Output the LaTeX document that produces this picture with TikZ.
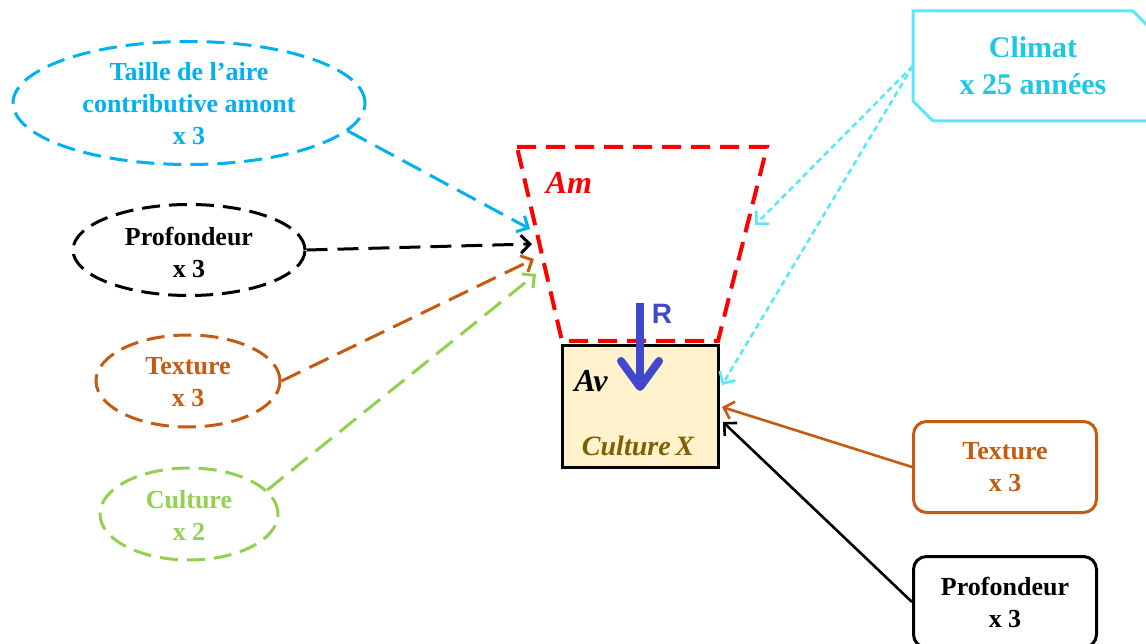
\documentclass[tikz,border=0pt]{standalone}
\usepackage{fontspec}
\setmainfont{Liberation Serif}
\newfontfamily\sansR{Liberation Sans}
\usetikzlibrary{shapes.geometric,arrows.meta}
\definecolor{cblue}{RGB}{0,176,240}
\definecolor{corange}{RGB}{197,90,17}
\definecolor{cgreen}{RGB}{146,208,80}
\definecolor{ccyanline}{RGB}{90,232,248}
\definecolor{ccyantext}{RGB}{30,200,228}
\definecolor{cred}{RGB}{255,0,0}
\definecolor{cfill}{RGB}{255,242,204}
\definecolor{colive}{RGB}{127,96,0}
\definecolor{rblue}{RGB}{64,72,204}
\begin{document}
\begin{tikzpicture}[x=1pt,y=-1pt,
  txt/.style={align=center,font=\bfseries\fontsize{26}{32}\selectfont},
  ell/.style={ellipse,draw,line width=3pt,dash pattern=on 18pt off 9pt,inner sep=0pt},
  dlink/.style={line width=3pt,dash pattern=on 21pt off 10pt,-{Straight Barb[length=9pt,width=18pt]}},
  clink/.style={color=ccyanline,line width=2.6pt,dash pattern=on 6pt off 4pt,-{Straight Barb[length=9pt,width=18pt]}},
  slink/.style={line width=2.6pt,-{Straight Barb[length=9pt,width=18pt]}},
  rbox/.style={draw,rounded corners=13pt,line width=3pt,minimum width=183pt,minimum height=91pt,inner sep=0pt,align=center,font=\bfseries\fontsize{26}{32}\selectfont}
]
\path[use as bounding box] (0,0) rectangle (1146,644);
\clip (0,0) rectangle (1146,644);

% left ellipses
\node[ell,cblue,minimum width=352pt,minimum height=123pt] (blueE) at (189,103) {};
\node[txt,cblue] (blueT) at (189,104) {Taille de l’aire\\contributive amont\\x 3};
\node[ell,black,minimum width=232pt,minimum height=91pt] (profE) at (189,250) {};
\node[txt,black] (profT) at (189,252) {Profondeur\\x 3};
\node[ell,corange,minimum width=184pt,minimum height=92pt] (texE) at (188,381) {};
\node[txt,corange] (texT) at (188,382) {Texture\\x 3};
\node[ell,cgreen,minimum width=178pt,minimum height=92pt] (culE) at (189,514) {};
\node[txt,cgreen] (culT) at (189,515) {Culture\\x 2};

% trapezoid Am
\coordinate (tA) at (517,147);
\coordinate (tB) at (767,147);
\coordinate (tC) at (718,341);
\coordinate (tD) at (562,341);
\draw[cred,line width=4pt,dash pattern=on 19pt off 10pt] (tA) -- (tB) -- (tC) -- (tD) -- cycle;
\node[cred,font=\bfseries\itshape\fontsize{32}{36}\selectfont] (am) at (569,183) {Am};

% Av box
\node[draw,line width=3.5pt,fill=cfill,minimum width=156pt,minimum height=122pt,inner sep=0pt] (av) at (640.5,406.5) {};
\node[font=\bfseries\itshape\fontsize{32}{36}\selectfont] (avT) at (591,381) {Av};
\node[colive,font=\bfseries\itshape\fontsize{28}{32}\selectfont] (culX) at (638,446) {Culture\,X};

% R arrow
\coordinate (rTop) at (640,303);
\coordinate (rTip) at (640,391);
\draw[rblue,line width=8pt,-{Straight Barb[length=26pt,width=38pt,round]}] (rTop) -- (rTip);
\node[rblue,font=\sansR\bfseries\fontsize{28}{32}\selectfont] (rL) at (662,314) {R};

% Climat box
\node[txt,ccyantext,font=\bfseries\fontsize{30}{37}\selectfont,minimum width=240pt,minimum height=110pt] (clim) at (1033,66) {Climat\\x 25 années};
\draw[ccyanline,line width=3pt] (913,11) -- (1133,11) -- (1175,53) -- (1175,121) -- (933,121) -- (913,101) -- cycle;

% right boxes
\node[rbox,corange] (texR) at (1005,467) {Texture\\x 3};
\node[rbox,black] (profR) at (1005,602) {Profondeur\\x 3};

% targets
\coordinate (pBlue) at (530,229);
\coordinate (pProf) at (532,244);
\coordinate (pTex) at (534,259);
\coordinate (pCul) at (536,274);
\coordinate (pClim1) at (755,225);
\coordinate (pClim2) at (722,385);
\coordinate (pTexR) at (722,407);
\coordinate (pProfR) at (723,422);

% connectors
\draw[dlink,cblue] (blueE.-10) -- (pBlue);
\draw[dlink,black] (profE.east) -- (pProf);
\draw[dlink,corange] (texE.east) -- (pTex);
\draw[dlink,cgreen] (culE.17) -- (pCul);
\draw[clink] (clim.west) -- (pClim1);
\draw[clink] (clim.west) -- (pClim2);
\draw[slink,corange] (texR.west) -- (pTexR);
\draw[slink,black] (profR.west) -- (pProfR);
\end{tikzpicture}
\end{document}
